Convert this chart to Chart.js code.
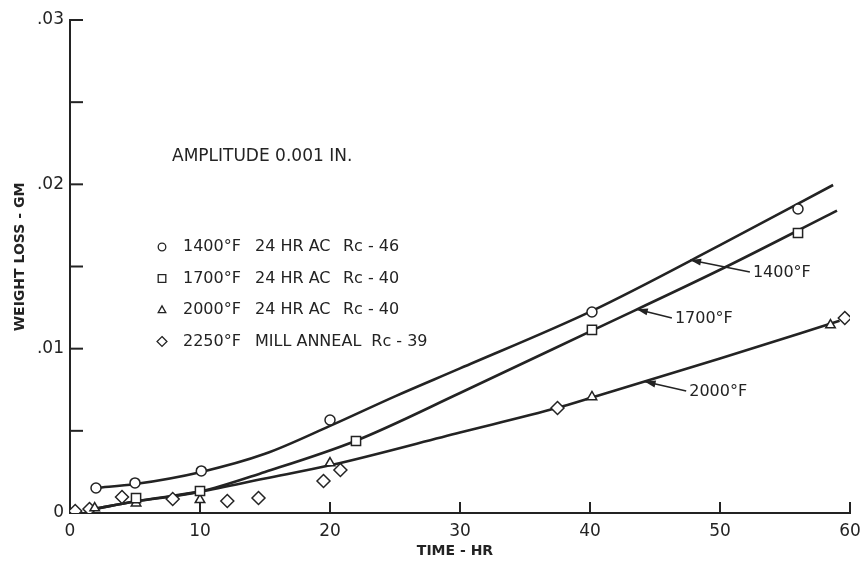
<!DOCTYPE html>
<html>
<head>
<meta charset="utf-8">
<script src="https://cdn.jsdelivr.net/npm/chart.js@4/dist/chart.umd.min.js"></script>
<style>
  html, body { margin: 0; padding: 0; background: #fff; overflow: hidden; }
  #wrap { width: 862px; height: 561px; }
</style>
</head>
<body>
<div id="wrap"><canvas id="c"></canvas></div>
<script>
// measured points (time in hr, weight loss in gm)
const hr1400 = [2.0, 5.0, 10.1, 20.0, 40.15, 56.0];
const wl1400 = [0.00152, 0.00183, 0.00256, 0.00566, 0.01223, 0.0185];
const hr1700 = [5.08, 10.0, 22.0, 40.15, 56.0];
const wl1700 = [0.00091, 0.00134, 0.00438, 0.01114, 0.01704];
const hr2000 = [1.9, 5.08, 10.0, 20.0, 40.15, 58.5];
const wl2000 = [0.0003, 0.0006, 0.0008, 0.00304, 0.00706, 0.01144];
const hr2250 = [0.4, 1.5, 4.0, 7.9, 12.1, 14.5, 19.5, 20.8, 37.5, 59.6];
const wl2250 = [0.00012, 0.00024, 0.00097, 0.00085, 0.00073, 0.00091, 0.00195, 0.00262, 0.00639, 0.01187];

// faired curves as drawn on the figure
const curveHr1400 = [2.0, 5.0, 10.1, 15.0, 20.0, 25.0, 30.0, 40.15, 50.0, 58.7];
const curveWl1400 = [0.00152, 0.00176, 0.0025, 0.0036, 0.0053, 0.0071, 0.0088, 0.0123, 0.0163, 0.01996];
const curveHr1700 = [1.9, 5.0, 10.0, 15.0, 22.0, 30.0, 40.15, 50.0, 59.0];
const curveWl1700 = [0.00025, 0.0007, 0.0013, 0.0025, 0.0044, 0.0073, 0.0111, 0.0148, 0.0184];
const curveHr2000 = [1.9, 5.0, 10.0, 15.0, 20.0, 30.0, 37.5, 40.15, 50.0, 59.2];
const curveWl2000 = [0.00025, 0.0007, 0.0013, 0.0021, 0.0029, 0.0049, 0.0064, 0.00703, 0.0094, 0.0117];

const legendTemp = ['1400°F', '1700°F', '2000°F', '2250°F'];
const legendTreat = ['24 HR AC', '24 HR AC', '24 HR AC', 'MILL ANNEAL'];
const legendHard = ['Rc - 46', 'Rc - 40', 'Rc - 40', 'Rc - 39'];
const legendStyle = ['circle', 'rect', 'triangle', 'rectRot'];

const curveNames = ['1400°F', '1700°F', '2000°F'];
const arrowTipHr = [47.7, 43.6, 44.2];
const arrowTipWl = [0.0154, 0.0124, 0.0080];
const arrowTailHr = [52.3, 46.3, 47.4];
const arrowTailWl = [0.01467, 0.01187, 0.00742];

const ink = '#232323';
const FONT = '"DejaVu Sans", "Liberation Sans", sans-serif';

function pts(xs, ys) { return xs.map((x, i) => ({ x: x, y: ys[i] })); }

function curve(xs, ys) {
  return {
    data: pts(xs, ys), showLine: true, pointRadius: 0, borderColor: ink,
    borderWidth: 2.6, cubicInterpolationMode: 'monotone', order: 2
  };
}
function marks(xs, ys, style, r) {
  return {
    data: pts(xs, ys), showLine: false, pointStyle: style, pointRadius: r,
    pointBorderColor: ink, pointBackgroundColor: '#fff', pointBorderWidth: 1.5, order: 1
  };
}

function marker(ctx, style, x, y, r) {
  ctx.beginPath();
  if (style === 'circle') {
    ctx.arc(x, y, r, 0, Math.PI * 2);
  } else if (style === 'rect') {
    ctx.rect(x - r, y - r, 2 * r, 2 * r);
  } else if (style === 'triangle') {
    ctx.moveTo(x, y - r * 1.1);
    ctx.lineTo(x + r, y + r * 0.7);
    ctx.lineTo(x - r, y + r * 0.7);
    ctx.closePath();
  } else {
    ctx.moveTo(x, y - r * 1.3);
    ctx.lineTo(x + r * 1.3, y);
    ctx.lineTo(x, y + r * 1.3);
    ctx.lineTo(x - r * 1.3, y);
    ctx.closePath();
  }
  ctx.fillStyle = '#fff';
  ctx.fill();
  ctx.stroke();
}

const annot = {
  id: 'annot',
  beforeDatasetsDraw(chart) {
    const { ctx, chartArea: a, scales: { x, y } } = chart;
    ctx.save();
    ctx.strokeStyle = ink;
    ctx.lineWidth = 2;
    y.ticks.forEach(t => {
      const py = y.getPixelForValue(t.value);
      ctx.beginPath(); ctx.moveTo(a.left, py); ctx.lineTo(a.left + 13, py); ctx.stroke();
    });
    x.ticks.forEach(t => {
      if (t.value === 0) return;
      const px = x.getPixelForValue(t.value);
      ctx.beginPath(); ctx.moveTo(px, a.bottom); ctx.lineTo(px, a.bottom - 11); ctx.stroke();
    });
    ctx.restore();
  },
  afterDraw(chart) {
    const { ctx, scales: { x, y } } = chart;
    ctx.save();
    ctx.fillStyle = ink;
    ctx.strokeStyle = ink;
    ctx.textBaseline = 'middle';

    // axis titles
    ctx.font = 'bold 14px ' + FONT;
    ctx.textAlign = 'center';
    ctx.fillText('TIME - HR', 455, 551);
    ctx.save();
    ctx.translate(20, 257);
    ctx.rotate(-Math.PI / 2);
    ctx.fillText('WEIGHT LOSS - GM', 0, 0);
    ctx.restore();

    // note and legend
    ctx.textAlign = 'left';
    ctx.font = '17px ' + FONT;
    ctx.fillText('AMPLITUDE 0.001 IN.', 172, 157);
    ctx.font = '16px ' + FONT;
    legendTemp.forEach((t, i) => {
      const ly = 247 + i * 31.5;
      ctx.lineWidth = 1.3;
      marker(ctx, legendStyle[i], 162, ly, 3.8);
      ctx.fillStyle = ink;
      ctx.fillText(t, 183, ly);
      ctx.fillText(legendTreat[i], 255, ly);
      const end = 255 + ctx.measureText(legendTreat[i]).width + 10;
      ctx.fillText(legendHard[i], Math.max(343, end), ly);
    });

    // curve labels with leader arrows
    ctx.font = '16px ' + FONT;
    curveNames.forEach((n, i) => {
      const tx = x.getPixelForValue(arrowTipHr[i]);
      const ty = y.getPixelForValue(arrowTipWl[i]);
      const sx = x.getPixelForValue(arrowTailHr[i]);
      const sy = y.getPixelForValue(arrowTailWl[i]);
      ctx.lineWidth = 1.6;
      ctx.beginPath(); ctx.moveTo(sx, sy); ctx.lineTo(tx, ty); ctx.stroke();
      const ang = Math.atan2(ty - sy, tx - sx);
      ctx.beginPath();
      ctx.moveTo(tx, ty);
      ctx.lineTo(tx - 11 * Math.cos(ang) + 3.5 * Math.sin(ang), ty - 11 * Math.sin(ang) - 3.5 * Math.cos(ang));
      ctx.lineTo(tx - 11 * Math.cos(ang) - 3.5 * Math.sin(ang), ty - 11 * Math.sin(ang) + 3.5 * Math.cos(ang));
      ctx.closePath();
      ctx.fill();
      ctx.fillText(n, sx + 3, sy + 1);
    });
    ctx.restore();
  }
};

new Chart(document.getElementById('c'), {
  type: 'scatter',
  data: {
    datasets: [
      curve(curveHr1400, curveWl1400),
      curve(curveHr1700, curveWl1700),
      curve(curveHr2000, curveWl2000),
      marks(hr1400, wl1400, 'circle', 5),
      marks(hr1700, wl1700, 'rect', 6.5),
      marks(hr2000, wl2000, 'triangle', 5.5),
      marks(hr2250, wl2250, 'rectRot', 6.5)
    ]
  },
  options: {
    responsive: true,
    maintainAspectRatio: false,
    animation: false,
    layout: { padding: { top: 20, right: 12, left: 0, bottom: 0 } },
    plugins: { legend: { display: false }, tooltip: { enabled: false } },
    scales: {
      x: {
        type: 'linear', min: 0, max: 60,
        afterFit: s => { s.height = 48; s.paddingLeft = 0; s.paddingRight = 0; },
        grid: { display: false, drawTicks: false },
        border: { display: true, color: ink, width: 2 },
        ticks: { stepSize: 10, padding: 8, color: ink, font: { family: FONT, size: 17 } }
      },
      y: {
        min: 0, max: 0.03,
        afterFit: s => { s.width = 70; s.paddingTop = 0; s.paddingBottom = 0; },
        grid: { display: false, drawTicks: false },
        border: { display: true, color: ink, width: 2 },
        ticks: {
          stepSize: 0.005, padding: 6, color: ink, font: { family: FONT, size: 17 },
          callback: v => {
            const m = Math.round(v * 1000);
            if (m % 10 !== 0) return '';
            return m === 0 ? '0' : '.0' + (m / 10);
          }
        }
      }
    }
  },
  plugins: [annot]
});
</script>
</body>
</html>
